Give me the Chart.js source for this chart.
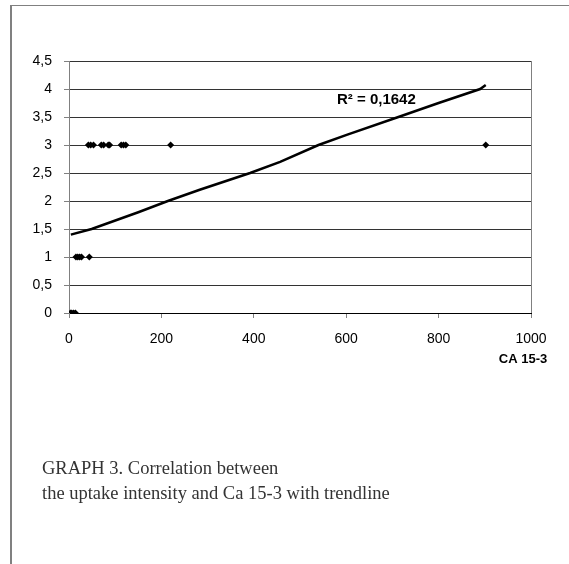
<!DOCTYPE html>
<html>
<head>
<meta charset="utf-8">
<script src="https://cdn.jsdelivr.net/npm/chart.js@4/dist/chart.umd.min.js"></script>
<style>
  html, body { margin: 0; padding: 0; background: #fff; }
  #wrap { position: relative; width: 569px; height: 564px; overflow: hidden; }
  #frame { position: absolute; left: 10px; top: 5px; width: 600px; height: 600px;
           border-left: 2px solid #808080; border-top: 1px solid #808080; }
  #chart { position: absolute; left: 0; top: 0; }
  #caption { position: absolute; left: 42px; top: 456px; font-family: "Liberation Serif", serif;
             font-size: 18.5px; line-height: 25px; color: #333; }
</style>
</head>
<body>
<div id="wrap">
  <div id="frame"></div>
  <canvas id="chart" width="569" height="564"></canvas>
  <div id="caption">GRAPH 3. Correlation between<br>the uptake intensity and Ca 15-3 with trendline</div>
</div>
<script>
// CA 15-3 values and uptake intensity
let caValues = [3, 6, 10, 14, 15, 19, 23, 27, 44, 42, 47, 53, 70, 75, 85, 88, 113, 118, 123, 220, 902];
let uptake = [0, 0, 0, 0, 1, 1, 1, 1, 1, 3, 3, 3, 3, 3, 3, 3, 3, 3, 3, 3, 3];

// trendline as drawn in the picture
let trendX = [4, 49, 150, 214, 283, 392, 457, 540, 601, 713, 800, 890, 902];
let trendY = [1.4, 1.5, 1.8, 2.0, 2.2, 2.5, 2.7, 3.0, 3.18, 3.5, 3.75, 4.0, 4.07];

let xTicks = [0, 200, 400, 600, 800, 1000];
let yTicks = [0, 0.5, 1, 1.5, 2, 2.5, 3, 3.5, 4, 4.5];
let rLabel = 'R\u00b2 = 0,1642';
let xTitle = 'CA 15-3';

let points = caValues.map((v, i) => ({ x: v, y: uptake[i] }));
let trend = trendX.map((v, i) => ({ x: v, y: trendY[i] }));

let extras = {
  id: 'extras',
  afterDraw(chart) {
    let ctx = chart.ctx;
    let a = chart.chartArea;
    ctx.save();
    // right border of plot area
    ctx.strokeStyle = '#808080';
    ctx.lineWidth = 1;
    ctx.beginPath();
    ctx.moveTo(Math.round(a.right) + 0.5, a.top);
    ctx.lineTo(Math.round(a.right) + 0.5, a.bottom);
    ctx.stroke();
    ctx.fillStyle = '#000';
    ctx.font = 'bold 15px "Liberation Sans", Arial, sans-serif';
    ctx.textBaseline = 'middle';
    ctx.textAlign = 'left';
    ctx.fillText(rLabel, chart.scales.x.getPixelForValue(580), chart.scales.y.getPixelForValue(3.8));
    ctx.font = 'bold 13px "Liberation Sans", Arial, sans-serif';
    ctx.textAlign = 'center';
    ctx.fillText(xTitle, a.right - 8, a.bottom + 46);
    ctx.restore();
  }
};

let ctx = document.getElementById('chart');
let chart = new Chart(ctx, {
  type: 'scatter',
  data: {
    datasets: [
      {
        label: 'points',
        data: points,
        pointStyle: 'rectRot',
        pointRadius: 3.5,
        backgroundColor: '#000',
        borderWidth: 0,
        order: 1,
      },
      {
        label: 'trend',
        type: 'line',
        data: trend,
        borderColor: '#000',
        borderWidth: 2.5,
        pointRadius: 0,
        fill: false,
        tension: 0,
        order: 0,
      },
    ],
  },
  options: {
    responsive: false,
    animation: false,
    layout: { padding: { left: 0, top: 61, right: 38, bottom: 211 } },
    plugins: { legend: { display: false }, tooltip: { enabled: false } },
    scales: {
      x: {
        type: 'linear',
        min: 0,
        max: 1000,
        afterBuildTicks: (s) => { s.ticks = xTicks.map((v) => ({ value: v })); },
        afterFit: (s) => { s.height = 40; },
        ticks: {
          color: '#000',
          font: { family: '"Liberation Sans", Arial, sans-serif', size: 14 },
          padding: 13,
          maxRotation: 0,
          callback: (v) => String(v),
        },
        grid: { drawOnChartArea: false, tickLength: 5, tickColor: '#808080' },
        border: { color: '#000', width: 1 },
      },
      y: {
        type: 'linear',
        min: 0,
        max: 4.5,
        afterBuildTicks: (s) => { s.ticks = yTicks.map((v) => ({ value: v })); },
        afterFit: (s) => { s.width = 69; },
        ticks: {
          color: '#000',
          font: { family: '"Liberation Sans", Arial, sans-serif', size: 14 },
          padding: 12,
          callback: (v) => String(v).replace('.', ','),
        },
        grid: { color: '#333', lineWidth: 1, tickLength: 5, tickColor: '#808080' },
        border: { color: '#808080', width: 1 },
      },
    },
  },
  plugins: [extras],
});
</script>
</body>
</html>
